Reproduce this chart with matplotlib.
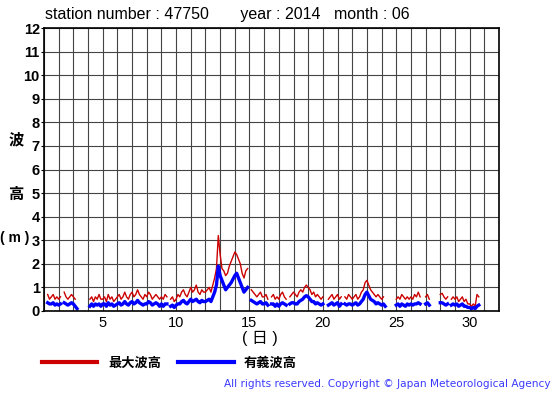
import numpy as np
import matplotlib
matplotlib.use("Agg")
import matplotlib.pyplot as plt
from matplotlib.lines import Line2D

plt.rcParams['font.family'] = ['Liberation Sans', 'Noto Sans CJK JP']

nan = np.nan

# 3-hourly readings per day (00, 03, ... 21 h), June 2014, station 47750
max_wave = [
    [nan, nan, 0.7, 0.5, 0.6, 0.7, 0.5, 0.6],   # 1
    [0.5, 0.6, nan, 0.8, 0.6, 0.5, 0.6, 0.7],   # 2
    [0.6, 0.5, nan, nan, nan, nan, nan, nan],   # 3
    [nan, 0.5, 0.6, 0.4, 0.6, 0.5, 0.7, 0.5],   # 4
    [0.5, 0.6, 0.4, 0.7, 0.5, 0.6, 0.4, 0.5],   # 5
    [0.6, 0.7, 0.5, 0.6, 0.8, 0.6, 0.5, 0.7],   # 6
    [0.8, 0.6, 0.7, 0.9, 0.7, 0.6, 0.5, 0.7],   # 7
    [0.6, 0.8, 0.7, 0.5, 0.6, 0.7, 0.6, 0.5],   # 8
    [0.6, 0.5, 0.7, 0.6, nan, 0.5, 0.6, 0.4],   # 9
    [0.5, 0.7, 0.6, 0.8, 0.9, 0.7, 0.6, 0.8],   # 10
    [1.0, 0.8, 0.9, 1.1, 0.8, 0.7, 0.9, 0.8],   # 11
    [0.8, 0.9, 1.0, 0.8, 1.1, 1.4, 1.8, 3.2],   # 12
    [2.4, 1.8, 1.7, 1.5, 1.6, 1.9, 2.1, 2.3],   # 13
    [2.5, 2.4, 2.2, 2.0, 1.6, 1.4, 1.7, 1.8],   # 14
    [nan, 0.9, 0.8, 0.7, 0.6, 0.7, 0.8, 0.6],   # 15
    [0.6, 0.7, 0.5, nan, 0.6, 0.7, 0.5, 0.6],   # 16
    [0.5, 0.7, 0.8, 0.6, 0.5, nan, 0.6, 0.7],   # 17
    [0.8, 0.7, 0.6, 0.8, 0.9, 0.8, 1.0, 1.1],   # 18
    [1.0, 0.9, 0.7, 0.8, 0.6, 0.7, 0.6, 0.5],   # 19
    [0.6, nan, nan, 0.5, 0.6, 0.7, 0.5, 0.6],   # 20
    [0.7, 0.5, 0.6, nan, 0.6, 0.5, 0.7, 0.6],   # 21
    [0.5, 0.6, 0.7, 0.5, 0.6, 0.8, 0.9, 1.2],   # 22
    [1.3, 1.1, 0.9, 0.8, 0.7, 0.6, 0.7, 0.6],   # 23
    [0.5, 0.6, nan, nan, 0.5, nan, nan, nan],   # 24
    [0.5, 0.6, 0.5, 0.7, 0.6, 0.5, 0.6, 0.5],   # 25
    [0.6, 0.5, 0.7, 0.6, 0.8, 0.6, nan, nan],   # 26
    [0.6, 0.7, 0.5, nan, nan, nan, 0.5, nan],   # 27
    [0.7, 0.75, 0.6, 0.5, 0.6, nan, 0.5, 0.6],  # 28
    [0.5, 0.6, 0.4, 0.5, 0.6, 0.4, 0.5, 0.3],   # 29
    [0.3, 0.2, 0.3, 0.2, 0.7, 0.6, nan, nan],   # 30
]

sig_wave = [
    [nan, nan, 0.35, 0.3, 0.3, 0.35, 0.25, 0.3],
    [0.25, 0.3, nan, 0.35, 0.3, 0.25, 0.3, 0.35],
    [0.3, 0.2, 0.1, nan, nan, nan, nan, nan],
    [nan, 0.2, 0.3, 0.2, 0.3, 0.25, 0.3, 0.2],
    [0.3, 0.3, 0.2, 0.35, 0.25, 0.3, 0.2, 0.25],
    [0.3, 0.35, 0.25, 0.3, 0.4, 0.3, 0.25, 0.35],
    [0.4, 0.3, 0.35, 0.45, 0.35, 0.3, 0.25, 0.3],
    [0.3, 0.4, 0.35, 0.25, 0.3, 0.35, 0.3, 0.2],
    [0.3, 0.2, 0.3, 0.3, nan, 0.2, 0.25, 0.15],
    [0.25, 0.3, 0.3, 0.4, 0.45, 0.35, 0.3, 0.4],
    [0.5, 0.4, 0.45, 0.5, 0.4, 0.35, 0.45, 0.4],
    [0.4, 0.45, 0.5, 0.4, 0.6, 0.8, 1.1, 1.9],
    [1.5, 1.3, 1.1, 0.9, 1.0, 1.1, 1.2, 1.35],
    [1.5, 1.6, 1.4, 1.2, 1.0, 0.8, 0.9, 1.0],
    [nan, 0.45, 0.4, 0.35, 0.3, 0.35, 0.4, 0.3],
    [0.3, 0.35, 0.25, nan, 0.3, 0.3, 0.2, 0.3],
    [0.2, 0.3, 0.35, 0.3, 0.25, nan, 0.3, 0.35],
    [0.35, 0.3, 0.3, 0.4, 0.45, 0.5, 0.6, 0.65],
    [0.6, 0.5, 0.4, 0.4, 0.3, 0.35, 0.3, 0.25],
    [0.3, nan, nan, 0.25, 0.3, 0.35, 0.25, 0.3],
    [0.35, 0.2, 0.3, nan, 0.3, 0.25, 0.3, 0.3],
    [0.25, 0.3, 0.35, 0.25, 0.3, 0.4, 0.5, 0.7],
    [0.8, 0.65, 0.5, 0.45, 0.4, 0.3, 0.35, 0.3],
    [0.25, 0.3, 0.2, nan, 0.25, nan, 0.2, nan],
    [0.25, 0.3, 0.2, 0.3, 0.25, 0.2, 0.3, 0.25],
    [0.3, 0.25, 0.3, 0.3, 0.35, 0.3, nan, nan],
    [0.3, 0.35, 0.25, nan, nan, nan, 0.2, nan],
    [0.35, 0.35, 0.3, 0.25, 0.3, nan, 0.25, 0.3],
    [0.25, 0.3, 0.2, 0.25, 0.3, 0.2, 0.2, 0.15],
    [0.15, 0.1, 0.15, 0.1, 0.2, 0.25, nan, nan],
]

days = np.arange(1, 31)
hours = [0, 3, 6, 9, 12, 15, 18, 21]
x = np.array([d + h / 24 for d in days for h in hours])
ymax = np.array(max_wave).ravel()
ysig = np.array(sig_wave).ravel()

fig = plt.figure(figsize=(5.55, 3.95), dpi=100)
ax = fig.add_axes([44 / 555, 1 - 311 / 395, 455 / 555, 283 / 395])

ax.plot(x, ymax, color='#cc0000', lw=1.0)
ax.plot(x, ysig, color='#0000ff', lw=2.4)

ax.set_xlim(1, 32)
ax.set_ylim(0, 12)
ax.set_xticks(np.arange(1, 33), minor=True)
ax.set_xticks([5, 10, 15, 20, 25, 30])
ax.set_yticks(range(0, 13))
ax.grid(True, which='both', color='#444444', lw=0.8)
ax.tick_params(which='both', length=0)
ax.tick_params(axis='y', length=2, pad=1)
for lab in ax.get_yticklabels():
    lab.set_fontweight('bold')
    lab.set_fontsize(10.5)
for lab in ax.get_xticklabels():
    lab.set_fontsize(10.5)
for s in ax.spines.values():
    s.set_linewidth(1.2)

fig.text(45 / 555, 1 - 15 / 395, 'station number : 47750       year : 2014   month : 06',
         fontsize=11.5, va='center', ha='left')
fig.text(16 / 555, 1 - 140 / 395, '波', fontsize=11, fontweight='bold', ha='center', va='center')
fig.text(16 / 555, 1 - 195 / 395, '高', fontsize=11, fontweight='bold', ha='center', va='center')
fig.text(15 / 555, 1 - 238 / 395, '( m )', fontsize=10, fontweight='bold', ha='center', va='center')
fig.text(260 / 555, 1 - 338 / 395, '( 日 )', fontsize=11.5, ha='center', va='center')

handles = [Line2D([], [], color='#cc0000', lw=3),
           Line2D([], [], color='#0000ff', lw=3)]
leg = fig.legend(handles, ['最大波高', '有義波高'], ncol=2, frameon=False,
                 loc='center left', bbox_to_anchor=(42 / 555, 1 - 363 / 395),
                 handlelength=4.2, handletextpad=0.8, columnspacing=1.3,
                 borderpad=0, borderaxespad=0,
                 prop={'family': 'Noto Sans CJK JP', 'weight': 'bold', 'size': 9.5})

fig.text(551 / 555, 1 - 384 / 395,
         'All rights reserved. Copyright © Japan Meteorological Agency',
         fontsize=7.6, color='#3a3aff', ha='right', va='center', family='DejaVu Sans')

fig.savefig('out.png', dpi=100)
